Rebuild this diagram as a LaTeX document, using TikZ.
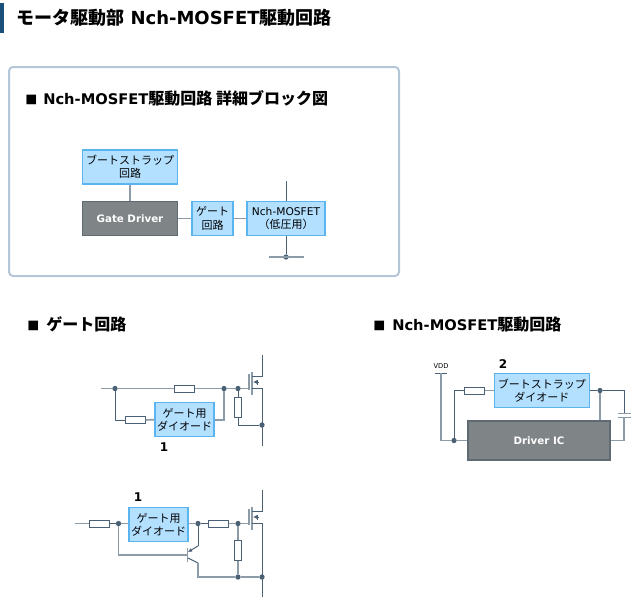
\documentclass[tikz,border=0pt]{standalone}
\usepackage{fontspec}
\setmainfont{DejaVu Sans}
\newfontfamily\jp{Noto Sans CJK JP}
\usepackage{xcolor}
\usepackage{tikz}
\usetikzlibrary{arrows.meta}
\definecolor{wireDark}{HTML}{4A6075}
\definecolor{wireGray}{HTML}{8C9BA8}
\definecolor{boxBlue}{HTML}{B3E0FF}
\definecolor{boxEdge}{HTML}{5AB4F0}
\definecolor{icGray}{HTML}{7F8486}
\definecolor{icEdge}{HTML}{5F6A72}
\definecolor{panelEdge}{HTML}{B4C7D8}
\definecolor{barBlue}{HTML}{1A4F7A}
\newcommand{\headjp}[1]{{\jp\fontsize{12}{14}\selectfont #1}}
\newcommand{\headsq}{\makebox[13.5pt][l]{\jp\fontsize{9}{11}\selectfont ■}}
\tikzset{
box/.style = {rectangle, draw=boxEdge, fill=boxBlue, line width=0.9pt, inner sep=0pt, align=center, font=\fontsize{8.25}{10}\selectfont\jp},
ic/.style = {rectangle, draw=icEdge, fill=icGray, line width=0.9pt, inner sep=0pt, text=white, font=\fontsize{7.7}{9}\selectfont\bfseries},
res/.style = {rectangle, draw=wireDark, fill=white, line width=0.75pt, inner sep=0pt, minimum width=15pt, minimum height=5.25pt},
resv/.style = {rectangle, draw=wireDark, fill=white, line width=0.75pt, inner sep=0pt, minimum width=5.25pt, minimum height=15pt},
junc/.style = {circle, fill=wireDark, inner sep=0pt, minimum size=4pt},
wire/.style = {draw=wireDark, line width=0.75pt},
wireg/.style = {draw=wireGray, line width=1.3pt},
head/.style = {anchor=west, inner sep=0pt, font=\fontsize{11}{13}\selectfont\bfseries},
num/.style = {inner sep=0pt, font=\fontsize{9}{11}\selectfont\bfseries},
}
\begin{document}
\begin{tikzpicture}[x=0.75pt,y=-0.75pt]
    \useasboundingbox (0,0) rectangle (632,600);
    % title and panel
    \fill[barBlue] (0,3) rectangle (4,33);
    \node[anchor=west, inner sep=0pt, font=\fontsize{13.5}{15}\selectfont\bfseries] (mainTitle) at (16,18) {{\jp モータ駆動部} Nch-MOSFET{\jp 駆動回路}};
    \draw[panelEdge, line width=1.5pt, rounded corners=3pt, fill=white] (9,67) rectangle (399,276);
    \node[head] (panelHead) at (25,98) {\headsq Nch-MOSFET\headjp{駆動回路 詳細ブロック図}};

    % block diagram
    \node[box, minimum width=71.25pt, minimum height=25.5pt] (bootBox) at (130,167) {ブートストラップ\\回路};
    \node[ic, minimum width=71.25pt, minimum height=26pt] (driverBox) at (130,218.5) {Gate Driver};
    \node[box, minimum width=30.75pt, minimum height=26pt] (gateBox) at (212.5,218.5) {ゲート\\回路};
    \node[box, minimum width=58.5pt, minimum height=26pt] (fetBox) at (286,218.5) {{\rmfamily\fontsize{8}{10}\selectfont Nch-MOSFET}\\（低圧用）};
    \coordinate (fetTop) at (286,181);
    \node[junc] (fetGnd) at (286,257) {};
    \coordinate (gndL) at (269,257);
    \coordinate (gndR) at (304,257);
    \draw[wireg] (bootBox) -- (driverBox);
    \draw[wireg] (driverBox) -- (gateBox);
    \draw[wireg] (gateBox) -- (fetBox);
    \draw[wire] (fetTop) -- (fetBox);
    \draw[wire] (fetBox) -- (fetGnd);
    \draw[wireg] (gndL) -- (gndR);

    % lower headings
    \node[head] (gateHead) at (27,324) {\makebox[14.25pt][l]{\jp\fontsize{9}{11}\selectfont ■}\headjp{ゲート回路}};
    \node[head] (driveHead) at (373,324) {\makebox[14.25pt][l]{\jp\fontsize{9}{11}\selectfont ■}Nch-MOSFET\headjp{駆動回路}};

    % the two output transistors
    \foreach \id/\gy/\sy in {A/388.5/446, B/523.5/597} {
        \coordinate (gate\id) at (249,\gy);
        \coordinate (drainEnd\id) at (262,{\gy-33.5});
        \coordinate (sourceEnd\id) at (262,\sy);
        \draw[wireg] (249,{\gy-15}) -- (249,{\gy+1});
        \draw[wireg] (252,{\gy-17}) -- (252,{\gy+6});
        \draw[wire] (252,{\gy-12.5}) -- (262,{\gy-12.5}) -- (drainEnd\id);
        \draw[wire] (252,\gy) -- (262,\gy) -- (sourceEnd\id);
        \draw[wire, -{Latex[length=3pt,width=3pt]}] (259,{\gy-6.5}) -- (253,{\gy-6.5});
        \draw[wire] (257,{\gy-9}) -- (257,{\gy-4});
    }

    % upper gate circuit
    \coordinate (inA) at (101,388.5);
    \node[junc] (jA1) at (115,388.5) {};
    \node[junc] (jA2) at (224,388.5) {};
    \node[junc] (jA3) at (238,388.5) {};
    \node[junc] (jA4) at (262,425) {};
    \node[res] (rA1) at (184.5,388.5) {};
    \node[res] (rA2) at (135,420) {};
    \node[resv] (rA3) at (238,407) {};
    \node[box, minimum width=44.25pt, minimum height=26pt] (diodeA) at (184.5,419.5) {ゲート用\\ダイオード};
    \node[num] (numA) at (164,447) {1};
    \draw[wireg] (inA) -- (jA1) -- (rA1) -- (jA2) -- (jA3) -- (gateA);
    \draw[wire] (jA1) |- (rA2);
    \draw[wireg] (rA2) -- (diodeA);
    \draw[wireg] (diodeA.east |- rA2) -| (jA2);
    \draw[wire] (jA3) -- (rA3);
    \draw[wire] (rA3) |- (jA4);

    % lower gate circuit
    \coordinate (inB) at (75,523.5);
    \node[res] (rB1) at (99,523.5) {};
    \node[junc] (jB1) at (118.5,523.5) {};
    \node[box, minimum width=44.25pt, minimum height=26pt] (diodeB) at (158.5,524.5) {ゲート用\\ダイオード};
    \node[junc] (jB2) at (198,523.5) {};
    \node[res] (rB2) at (218,523.5) {};
    \node[junc] (jB3) at (238,523.5) {};
    \node[resv] (rB3) at (238,550.5) {};
    \node[junc] (jB4) at (238,577) {};
    \node[junc] (jB5) at (262,577) {};
    \node[num] (numB) at (138,497) {1};
    \coordinate (baseB) at (187.5,555);
    \coordinate (emitB) at (198,546);
    \coordinate (collB) at (198,563);
    \draw[wireg] (inB) -- (rB1);
    \draw[wire] (rB1) -- (jB1);
    \draw[wireg] (jB1) -- (diodeB.west |- jB1);
    \draw[wireg] (diodeB.east |- jB2) -- (jB2);
    \draw[wire] (jB2) -- (rB2);
    \draw[wireg] (rB2) -- (jB3) -- (gateB);
    \draw[wireg] (jB1) |- (baseB);
    \draw[wireg] (187.5,548) -- (187.5,562);
    \draw[wire, -{Latex[length=3pt,width=3pt]}] (emitB) -- (188,552);
    \draw[wire] (jB2) -- (emitB);
    \draw[wire] (188,558) -- (collB);
    \draw[wireg] (collB) |- (jB4);
    \draw[wireg] (jB3) -- (rB3) -- (jB4) -- (jB5);

    % driver IC circuit
    \node[box, minimum width=71.25pt, minimum height=26pt] (bootDiode) at (541.75,390.5) {ブートストラップ\\ダイオード};
    \node[ic, minimum width=106.5pt, minimum height=29.25pt] (driverIC) at (539,440.5) {Driver IC};
    \node[inner sep=0pt, font=\fontsize{5}{6}\selectfont] (vddLabel) at (441,366) {VDD};
    \coordinate (vddTop) at (441,373);
    \coordinate (vddL) at (435,373);
    \coordinate (vddR) at (447,373);
    \node[junc] (jC1) at (454,440.5) {};
    \node[res] (rC1) at (474.5,390.5) {};
    \node[junc] (jC2) at (600,390.5) {};
    \node[num] (numC) at (503,364) {2};
    \coordinate (capTop) at (624,413.5);
    \coordinate (capBot) at (624,417.5);
    \draw[wire] (vddL) -- (vddR);
    \draw[wireg] (vddTop) |- (jC1);
    \draw[wireg] (jC1) -- (driverIC);
    \draw[wire] (jC1) |- (rC1);
    \draw[wireg] (rC1) -- (bootDiode);
    \draw[wire] (bootDiode) -- (jC2);
    \draw[wireg] (jC2) -- (jC2 |- driverIC.north);
    \draw[wire] (jC2) -| (capTop);
    \draw[wireg] (618,413.5) -- (631,413.5);
    \draw[wireg] (618,417.5) -- (631,417.5);
    \draw[wireg] (capBot) |- (driverIC.east);
\end{tikzpicture}
\end{document}
